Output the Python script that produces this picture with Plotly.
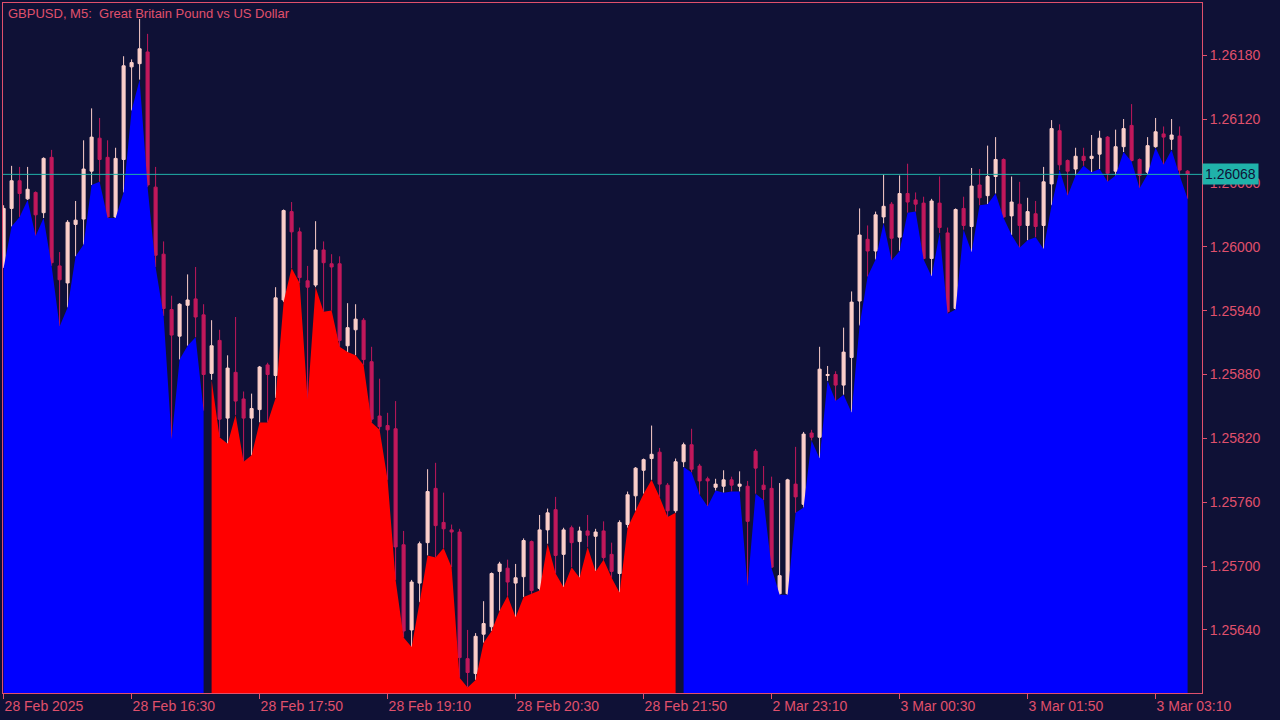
import plotly.graph_objects as go

# ---------------- data (GBPUSD M5) ----------------
open_ = [1.25981,1.26036,1.26062,1.26045,1.26051,1.26032,1.26084,1.25982,1.25966,1.26021,
         1.26026,1.26071,1.26102,1.26084,1.26028,1.26082,1.26169,1.26172,1.26183,1.26056,
         1.25993,1.25941,1.25916,1.25945,1.25951,1.25936,1.25881,1.25912,1.25839,1.25882,
         1.25857,1.25839,1.25847,1.25889,1.25879,1.25950,1.26033,1.26014,1.25968,1.25964,
         1.25997,1.25984,1.25984,1.25907,1.25922,1.25931,1.25892,1.25841,1.25832,1.25829,
         1.25720,1.25640,1.25684,1.25722,1.25773,1.25741,1.25734,1.25732,1.25613,1.25599,
         1.25636,1.25643,1.25695,1.25698,1.25684,1.25690,1.25723,1.25679,1.25734,1.25753,
         1.25711,1.25736,1.25723,1.25733,1.25728,1.25733,1.25711,1.25693,1.25739,1.25766,
         1.25790,1.25801,1.25807,1.25776,1.25752,1.25798,1.25814,1.25794,1.25782,1.25774,
         1.25775,1.25781,1.25775,1.25775,1.25808,1.25776,1.25773,1.25674,1.25674,1.25777,
         1.25758,1.25825,1.25821,1.25879,1.25880,1.25870,1.25896,1.25949,1.26007,1.25996,
         1.26028,1.26040,1.26009,1.26050,1.26044,1.26041,1.25989,1.26041,1.26013,1.25942,
         1.26036,1.26019,1.26058,1.26048,1.26066,1.26082,1.26029,1.26040,1.26020,1.26031,
         1.26020,1.26059,1.26109,1.26081,1.26073,1.26085,1.26083,1.26087,1.26103,1.26071,
         1.26094,1.26114,1.26082,1.26070,1.26094,1.26106,1.26101,1.26104,1.26071]
high = [1.26039,1.26076,1.26075,1.26075,1.26052,1.26084,1.26091,1.25995,1.26025,1.26043,
        1.26100,1.26130,1.26121,1.26100,1.26093,1.26179,1.26176,1.26214,1.26200,1.26075,
        1.26005,1.25954,1.25947,1.25974,1.25981,1.25946,1.25931,1.25922,1.25898,1.25934,
        1.25864,1.25862,1.25888,1.25891,1.25962,1.26035,1.26042,1.26018,1.25982,1.26024,
        1.26005,1.25993,1.25991,1.25947,1.25946,1.25933,1.25906,1.25876,1.25844,1.25855,
        1.25733,1.25687,1.25723,1.25791,1.25797,1.25769,1.25739,1.25735,1.25640,1.25637,
        1.25667,1.25694,1.25704,1.25706,1.25702,1.25726,1.25724,1.25748,1.25754,1.25765,
        1.25736,1.25738,1.25737,1.25748,1.25735,1.25742,1.25722,1.25743,1.25770,1.25793,
        1.25801,1.25832,1.25811,1.25778,1.25801,1.25816,1.25829,1.25796,1.25784,1.25782,
        1.25790,1.25784,1.25789,1.25780,1.25810,1.25794,1.25784,1.25778,1.25782,1.25812,
        1.25826,1.25828,1.25906,1.25888,1.25883,1.25924,1.25958,1.26036,1.26020,1.26033,
        1.26068,1.26042,1.26067,1.26078,1.26051,1.26047,1.26045,1.26066,1.26018,1.26036,
        1.26047,1.26074,1.26073,1.26095,1.26103,1.26083,1.26066,1.26061,1.26046,1.26043,
        1.26075,1.26119,1.26115,1.26082,1.26093,1.26093,1.26105,1.26109,1.26104,1.26110,
        1.26120,1.26134,1.26083,1.26103,1.26121,1.26113,1.26120,1.26113,1.26072]
low = [1.25980,1.26019,1.26028,1.26044,1.26010,1.26027,1.25982,1.25925,1.25943,1.25991,
       1.26002,1.26058,1.26061,1.26027,1.26027,1.26051,1.26128,1.26157,1.26056,1.25981,
       1.25935,1.25819,1.25894,1.25907,1.25915,1.25846,1.25875,1.25821,1.25815,1.25842,
       1.25798,1.25804,1.25835,1.25835,1.25858,1.25948,1.25980,1.25966,1.25856,1.25962,
       1.25939,1.25940,1.25906,1.25901,1.25898,1.25889,1.25835,1.25828,1.25781,1.25687,
       1.25633,1.25624,1.25666,1.25710,1.25708,1.25717,1.25699,1.25595,1.25586,1.25593,
       1.25628,1.25639,1.25658,1.25672,1.25652,1.25671,1.25674,1.25677,1.25721,1.25693,
       1.25680,1.25699,1.25689,1.25718,1.25695,1.25706,1.25689,1.25675,1.25736,1.25752,
       1.25768,1.25781,1.25765,1.25746,1.25750,1.25793,1.25788,1.25767,1.25756,1.25771,
       1.25769,1.25770,1.25770,1.25681,1.25768,1.25762,1.25698,1.25673,1.25673,1.25750,
       1.25755,1.25818,1.25801,1.25874,1.25855,1.25861,1.25844,1.25926,1.25972,1.25988,
       1.26022,1.25987,1.25996,1.26032,1.26033,1.25988,1.25972,1.26013,1.25937,1.25941,
       1.26016,1.25995,1.26039,1.26040,1.26050,1.26027,1.26011,1.25999,1.26006,1.26009,
       1.25998,1.26039,1.26072,1.26048,1.26067,1.26076,1.26070,1.26073,1.26061,1.26067,
       1.26089,1.26080,1.26055,1.26068,1.26093,1.26077,1.26091,1.26067,1.26045]
close = [1.26036,1.26062,1.26050,1.26054,1.26030,1.26083,1.25985,1.25969,1.26023,1.26025,
         1.26073,1.26103,1.26082,1.26028,1.26083,1.26170,1.26173,1.26186,1.26058,1.25992,
         1.25942,1.25917,1.25946,1.25950,1.25934,1.25880,1.25907,1.25838,1.25886,1.25855,
         1.25839,1.25848,1.25887,1.25880,1.25952,1.26034,1.26014,1.25971,1.25962,1.25997,
         1.25985,1.25981,1.25912,1.25924,1.25932,1.25894,1.25838,1.25831,1.25828,1.25718,
         1.25639,1.25685,1.25721,1.25770,1.25738,1.25735,1.25732,1.25614,1.25600,1.25634,
         1.25646,1.25693,1.25702,1.25685,1.25689,1.25724,1.25677,1.25734,1.25750,1.25710,
         1.25734,1.25722,1.25733,1.25729,1.25732,1.25708,1.25695,1.25741,1.25767,1.25792,
         1.25800,1.25805,1.25777,1.25752,1.25798,1.25814,1.25791,1.25780,1.25780,1.25777,
         1.25781,1.25776,1.25777,1.25742,1.25792,1.25772,1.25699,1.25691,1.25781,1.25765,
         1.25824,1.25821,1.25885,1.25880,1.25870,1.25901,1.25948,1.26011,1.25996,1.26030,
         1.26038,1.26008,1.26050,1.26042,1.26040,1.25989,1.26043,1.26018,1.25939,1.26035,
         1.26020,1.26057,1.26046,1.26066,1.26082,1.26028,1.26042,1.26020,1.26033,1.26019,
         1.26061,1.26111,1.26077,1.26071,1.26085,1.26081,1.26085,1.26102,1.26069,1.26094,
         1.26111,1.26081,1.26067,1.26095,1.26108,1.26103,1.26105,1.26072,1.26068]

# trend segments of the filled indicator (start bar index of each segment)
segment_starts = [0, 26, 85]
segment_colors = ["#0000ff", "#ff0000", "#0000ff"]

tick_bars = [0, 16, 32, 48, 64, 80, 96, 112, 128, 144]
tick_labels = ["28 Feb 2025", "28 Feb 16:30", "28 Feb 17:50", "28 Feb 19:10", "28 Feb 20:30",
               "28 Feb 21:50", "2 Mar 23:10", "3 Mar 00:30", "3 Mar 01:50", "3 Mar 03:10"]
price_ticks = [1.25640, 1.25700, 1.25760, 1.25820, 1.25880, 1.25940,
               1.26000, 1.26060, 1.26120, 1.26180]
last_price = 1.26068
title_text = "GBPUSD, M5:\u00a0\u00a0Great Britain Pound vs US Dollar"

# ---------------- styling ----------------
BG = "#0f1136"
AXIS = "#e0506c"
BULL = "#fccfca"
BEAR = "#c2185b"
TEAL = "#20b2aa"
FONT = "Liberation Sans"

n = len(close)
bars = list(range(n))

fig = go.Figure()

# filled indicator (area under bar lows, coloured by trend)
ends = segment_starts[1:] + [n]
for s, e, col in zip(segment_starts, ends, segment_colors):
    fig.add_trace(go.Scatter(
        x=bars[s:e], y=low[s:e], mode="lines",
        line=dict(width=0, color=col), fill="tozeroy", fillcolor=col,
        hoverinfo="skip", showlegend=False))

fig.add_trace(go.Candlestick(
    x=bars, open=open_, high=high, low=low, close=close,
    increasing=dict(line=dict(color=BULL, width=1), fillcolor=BULL),
    decreasing=dict(line=dict(color=BEAR, width=1), fillcolor=BEAR),
    whiskerwidth=0, hoverinfo="skip", showlegend=False))

fig.add_shape(type="line", xref="paper", x0=0, x1=1, yref="y", y0=last_price, y1=last_price,
              line=dict(color=TEAL, width=1))

fig.add_annotation(xref="paper", x=1.0, yref="y", y=last_price, xanchor="left", yanchor="middle",
                   text=f"{last_price:.5f}", showarrow=False, bgcolor=TEAL,
                   font=dict(family=FONT, size=14, color="#0f1136"),
                   borderpad=2, xshift=0)

fig.add_annotation(xref="paper", yref="paper", x=0, y=1, xanchor="left", yanchor="top",
                   xshift=3, yshift=-1, text=title_text, showarrow=False,
                   font=dict(family=FONT, size=13, color=AXIS))

fig.update_layout(
    width=1280, height=720,
    margin=dict(l=3, r=78, t=3, b=27),
    paper_bgcolor=BG, plot_bgcolor=BG,
    boxgap=0.45,
    showlegend=False,
    xaxis=dict(range=[-0.075, 149.8], tickmode="array", tickvals=tick_bars, ticktext=tick_labels,
               ticks="outside", ticklen=5, tickcolor=AXIS, ticklabelposition="outside right",
               showline=True, linecolor=AXIS, linewidth=1, mirror=True,
               showgrid=False, zeroline=False, rangeslider=dict(visible=False),
               tickfont=dict(family=FONT, size=14, color=AXIS), fixedrange=True),
    yaxis=dict(range=[1.2558075, 1.262290], side="right", tickmode="array",
               tickvals=price_ticks, tickformat=".5f",
               ticks="outside", ticklen=4, tickcolor=AXIS,
               showline=True, linecolor=AXIS, linewidth=1, mirror=True,
               showgrid=False, zeroline=False,
               tickfont=dict(family=FONT, size=14, color=AXIS), fixedrange=True),
)

fig.write_html("out.html", config={"displayModeBar": False},
               post_script="document.body.style.margin='0';document.body.style.background='%s';" % BG)
